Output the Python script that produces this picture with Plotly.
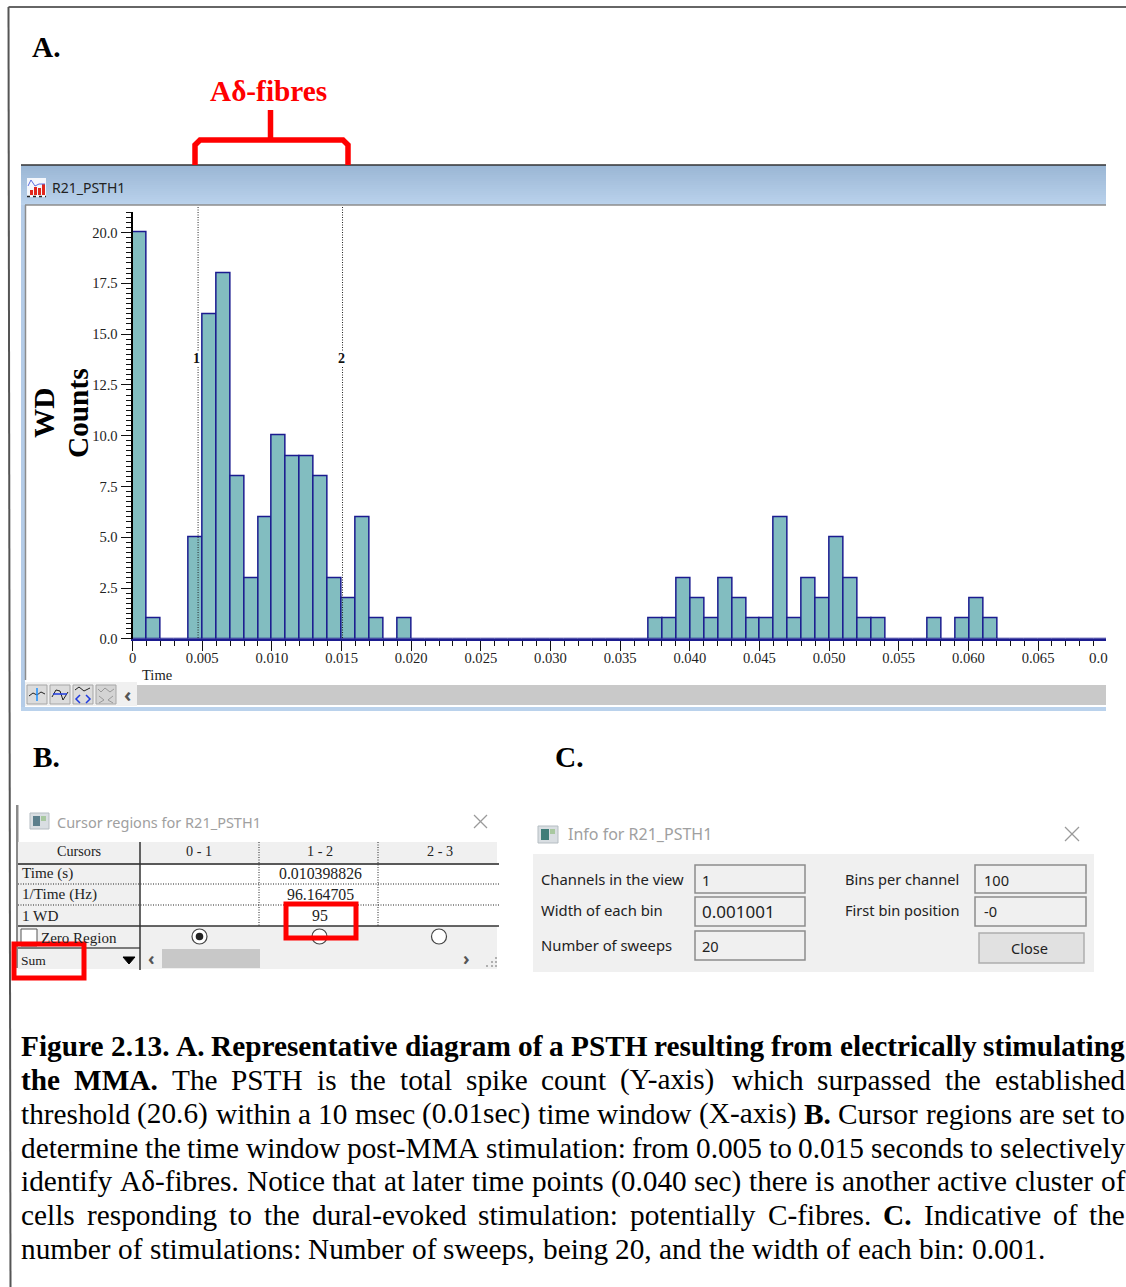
import numpy as np
import plotly.graph_objects as go

W, H = 1126, 1287

# ---------- data ----------
bin_width = 0.001001
counts = [20, 1, 0, 0, 5, 16, 18, 8, 3, 6, 10, 9, 9, 8, 3, 2, 6, 1, 0, 1,
          0, 0, 0, 0, 0, 0, 0, 0, 0, 0, 0, 0, 0, 0, 0, 0, 0,
          1, 1, 3, 2, 1, 3, 2, 1, 1, 6, 1, 3, 2, 5, 3, 1, 1, 0, 0, 0,
          1, 0, 1, 2, 1, 0, 0, 0, 0, 0, 0, 0, 0]
x_tick_vals = [0, 0.005, 0.010, 0.015, 0.020, 0.025, 0.030, 0.035, 0.040,
               0.045, 0.050, 0.055, 0.060, 0.065]
x_tick_text = ["0", "0.005", "0.010", "0.015", "0.020", "0.025", "0.030", "0.035",
               "0.040", "0.045", "0.050", "0.055", "0.060", "0.065"]
y_tick_vals = [0, 2.5, 5, 7.5, 10, 12.5, 15, 17.5, 20]
y_tick_text = ["0.0", "2.5", "5.0", "7.5", "10.0", "12.5", "15.0", "17.5", "20.0"]
cursors = [0.0047, 0.01507]

table_rows = ["Time (s)", "1/Time (Hz)", "1 WD"]
table_vals = ["0.010398826", "96.164705", "95"]
table_cols = ["Cursors", "0 - 1", "1 - 2", "2 - 3"]

caption = [
    [("Figure 2.13. A. Representative diagram of a PSTH resulting from electrically stimulating", True)],
    [("the MMA.", True), ("The PSTH is the total spike count (Y-axis) which surpassed the established", False)],
    [("threshold (20.6) within a 10 msec (0.01sec) time window (X-axis)", False), ("B.", True),
     ("Cursor regions are set to", False)],
    [("determine the time window post-MMA stimulation: from 0.005 to 0.015 seconds to selectively", False)],
    [("identify Aδ-fibres. Notice that at later time points (0.040 sec) there is another active cluster of", False)],
    [("cells responding to the dural-evoked stimulation: potentially C-fibres.", False), ("C.", True),
     ("Indicative of the", False)],
    [("number of stimulations: Number of sweeps, being 20, and the width of each bin: 0.001.", False)],
]

# ---------- helpers ----------
SERIF = "Liberation Serif"
SANS = "Noto Sans"
FINE_DOT = "1px,1.5px"
shapes, notes = [], []


def X(x):
    return x / W


def Y(y):
    return 1 - y / H


def rect(x0, y0, x1, y1, fill=None, line=None, lw=1, layer="below"):
    shapes.append(dict(type="rect", xref="paper", yref="paper", x0=X(x0), x1=X(x1), y0=Y(y0), y1=Y(y1),
                       fillcolor=fill or "rgba(0,0,0,0)", layer=layer,
                       line=dict(color=line or "rgba(0,0,0,0)", width=lw if line else 0)))


def seg(x0, y0, x1, y1, color="#000", lw=1, dash="solid", layer="below"):
    shapes.append(dict(type="line", xref="paper", yref="paper", x0=X(x0), x1=X(x1), y0=Y(y0), y1=Y(y1),
                       layer=layer, line=dict(color=color, width=lw, dash=dash)))


def path(points, color="#000", lw=1, fill=None, layer="above"):
    d = "M " + " L ".join(f"{X(a):.5f},{Y(b):.5f}" for a, b in points)
    if fill:
        d += " Z"
    shapes.append(dict(type="path", xref="paper", yref="paper", path=d, layer=layer,
                       fillcolor=fill or "rgba(0,0,0,0)", line=dict(color=color, width=lw)))


def circle(cx, cy, r, fill=None, line=None, lw=1, layer="above"):
    shapes.append(dict(type="circle", xref="paper", yref="paper", x0=X(cx - r), x1=X(cx + r),
                       y0=Y(cy - r), y1=Y(cy + r), layer=layer, fillcolor=fill or "rgba(0,0,0,0)",
                       line=dict(color=line or "rgba(0,0,0,0)", width=lw if line else 0)))


def text(x, y, s, size=14, font=SERIF, color="#111", anchor="left", bold=False, angle=0, bg=None):
    notes.append(dict(xref="paper", yref="paper", x=X(x), y=Y(y), text=f"<b>{s}</b>" if bold else s,
                      showarrow=False, xanchor=anchor, yanchor="middle", textangle=angle,
                      borderpad=0, borderwidth=0, bgcolor=bg or "rgba(0,0,0,0)",
                      font=dict(family=font, size=size, color=color)))


# Times metrics (per 1000 em), used to justify the caption lines
REG = dict(zip("abcdefghijklmnopqrstuvwxyz",
               [444, 500, 444, 500, 444, 333, 500, 500, 278, 278, 500, 278, 778, 500, 500, 500, 500, 333, 389, 278,
                500, 500, 722, 500, 500, 444]))
REG.update(dict(zip("ABCDEFGHIJKLMNOPQRSTUVWXYZ",
                    [722, 667, 667, 722, 611, 556, 722, 722, 333, 389, 722, 611, 889, 722, 722, 556, 722, 667, 556,
                     611, 722, 722, 944, 722, 722, 611])))
BLD = dict(zip("abcdefghijklmnopqrstuvwxyz",
               [500, 556, 444, 556, 444, 333, 500, 556, 278, 333, 556, 278, 833, 556, 500, 556, 556, 444, 389, 333,
                556, 500, 722, 500, 500, 444]))
BLD.update(dict(zip("ABCDEFGHIJKLMNOPQRSTUVWXYZ",
                    [722, 667, 722, 722, 667, 611, 778, 778, 389, 500, 778, 667, 944, 722, 778, 611, 778, 722, 556,
                     667, 722, 722, 1000, 722, 722, 667])))
for t in (REG, BLD):
    t.update({c: 500 for c in "0123456789"})
    t.update({".": 250, ",": 250, ":": 278 if t is REG else 333, "(": 333, ")": 333, "-": 333, "δ": 494})


def word_width(w, bold, size):
    table = BLD if bold else REG
    return sum(table.get(c, 500) for c in w) * size / 1000


# ---------- page frame ----------
seg(8.5, 7, W, 7, "#333", 1.5)
seg(8.5, 7, 10.5, H, "#555", 2)

# ---------- panel A window ----------
rect(21, 165, 1106, 711, "#FFFFFF")
top, bot = np.array([0x9B, 0xB7, 0xD5]), np.array([0xBA, 0xD2, 0xEC])
for i in range(20):
    c = top + (bot - top) * i / 19
    rect(21, 165 + i * 2, 1106, 167 + i * 2, "rgb(%d,%d,%d)" % tuple(c))
seg(21, 165, 1106, 165, "#333", 1.5)
seg(25, 205, 1106, 205, "#8C8C8C", 1.5)
rect(21, 205, 25, 711, "#B4CCE8")
seg(25.5, 205, 25.5, 680, "#8C8C8C", 1.5)
rect(25, 682, 137, 706, "#F0F0F0")
rect(137, 685, 1106, 705, "#C9C9C9")
rect(21, 707, 1106, 711, "#BAD2EC")

# title icon
rect(27, 178, 46, 197, "#F4F7FC")
for bx, bh in zip([30, 34, 38, 42], [5, 8, 7, 11]):
    rect(bx, 195 - bh, bx + 3, 195, "#E0261C")
seg(27, 196.5, 46, 196.5, "#222", 1.5, "dot")
path([(28, 186), (31, 180), (35, 186), (39, 184), (45, 184)], "#5B6EE0", 1)
text(52, 188, "R21_PSTH1", 14, SANS, "#222")

# toolbar
for ix in [27, 50, 73, 96]:
    rect(ix, 685, ix + 20, 704, "#DCDCDC" if ix < 96 else "#D4D4D4", "#A6A6A6", 1)
path([(29, 696), (33, 693), (37, 695), (41, 692), (45, 694)], "#222", 1)
seg(37, 688, 37, 701, "#1E90FF", 1.5, layer="above")
path([(52, 697), (56, 690), (60, 691), (63, 700), (68, 692)], "#222", 1)
seg(53, 694, 67, 694, "#1F3BE0", 1.5, layer="above")
path([(75, 690), (79, 687), (84, 691), (90, 688)], "#222", 1)
path([(80, 695), (76, 699), (80, 703)], "#1F3BE0", 1.5)
path([(86, 695), (90, 699), (86, 703)], "#1F3BE0", 1.5)
path([(98, 689), (101, 692), (105, 688), (110, 692), (114, 689)], "#999", 1)
path([(99, 696), (104, 700), (99, 703)], "#999", 1)
path([(113, 696), (108, 700), (113, 703)], "#999", 1)
text(127, 694, "‹", 20, SANS, "#555", "center", True)

# bracket
path([(195, 165), (195, 145), (200, 140), (343, 140), (348, 145), (348, 165)], "#FF0000", 5.5)
seg(270.5, 110, 270.5, 140, "#FF0000", 5.5, layer="above")

text(32, 47, "A.", 29.3, SERIF, "#000", bold=True)
text(268, 91, "Aδ-fibres", 29.3, SERIF, "#FF0000", "center", True)
text(33, 757, "B.", 29.3, SERIF, "#000", bold=True)
text(555, 757, "C.", 29.3, SERIF, "#000", bold=True)
text(44, 413, "WD", 29.3, SERIF, "#000", "center", True, -90)
text(78, 413, "Counts", 29.3, SERIF, "#000", "center", True, -90)
text(157, 675, "Time", 14.5, SERIF, "#222", "center")
text(1089, 658, "0.0", 15, SERIF, "#222")

# ---------- panel B ----------
rect(16, 805, 18.5, 968, "#8A8A8A")
rect(30, 813, 49, 829, "#D9DEE2", "#B5BDC2", 1)
rect(33, 816, 40, 826, "#5C7F8C")
rect(41, 816, 46, 821, "#A8C8A0")
text(57, 822, "Cursor regions for R21_PSTH1", 14.5, SANS, "#A0A0A0")
seg(474, 815, 487, 828, "#9A9A9A", 1.2)
seg(487, 815, 474, 828, "#9A9A9A", 1.2)
rect(18, 842, 497, 863, "#F0F0F0")
rect(18, 863, 140, 926, "#F0F0F0")
rect(18, 926, 497, 969, "#F0F0F0")
seg(18, 864, 499, 864, "#222", 1.5)
seg(18, 884, 499, 884, "#222", 1, FINE_DOT)
seg(18, 905, 499, 905, "#222", 1, FINE_DOT)
seg(18, 926, 499, 926, "#333", 1.5)
seg(18, 948, 140, 948, "#555", 1.5)
seg(140, 842, 140, 970, "#333", 1.5)
seg(259, 842, 259, 926, "#222", 1, FINE_DOT)
seg(378, 842, 378, 926, "#222", 1, FINE_DOT)
for cx, lab in zip([79, 199, 320, 440], table_cols):
    text(cx, 851, lab, 14.2, SERIF, "#222", "center")
for yy, lab, val in zip([873, 894, 915], table_rows, table_vals):
    text(22, yy, lab, 15.2, SERIF, "#222")
    text(320, yy, val, 15.8, SERIF, "#222", "center")
rect(21, 929, 37, 946, "#FFFFFF", "#555", 1)
text(41, 938, "Zero Region", 15, SERIF, "#222")
circle(199.5, 936.5, 7.5, "#FFFFFF", "#444", 1.2)
circle(199.5, 936.5, 3.8, "#222")
circle(319.5, 936.5, 7.5, "#FFFFFF", "#444", 1.2)
circle(439, 936.5, 7.5, "#FFFFFF", "#444", 1.2)
text(21, 960, "Sum", 13.5, SERIF, "#222")
path([(123, 957), (135, 957), (129, 964)], "#000", 1, "#000")
text(151, 958, "‹", 18, SANS, "#555", "center", True)
rect(162, 949, 260, 968, "#C8C8C8")
text(466, 958, "›", 18, SANS, "#555", "center", True)
for dx, dy in [(491, 965), (486, 965), (495, 965), (491, 961), (495, 961), (495, 957)]:
    rect(dx, dy, dx + 2, dy + 2, "#B0B0B0")
rect(286, 904, 356, 938, None, "#FF0000", 5, "above")
rect(14, 944, 84, 978, None, "#FF0000", 5, "above")

# ---------- panel C ----------
rect(538, 826, 558, 843, "#D9DEE2", "#B5BDC2", 1)
rect(541, 829, 549, 840, "#3F7C78")
rect(550, 829, 555, 834, "#A8C8A0")
text(568, 834, "Info for R21_PSTH1", 16, SANS, "#A0A0A0")
seg(1065, 827, 1079, 841, "#9A9A9A", 1.2)
seg(1079, 827, 1065, 841, "#9A9A9A", 1.2)
rect(533, 854, 1094, 972, "#F0F0F0")
info_left = [("Channels in the view", "1", 865, 893, 879), ("Width of each bin", "0.001001", 897, 926, 910),
             ("Number of sweeps", "20", 931, 960, 945)]
info_right = [("Bins per channel", "100", 865, 893, 879), ("First bin position", "-0", 897, 926, 910)]
for lab, val, y0, y1, yy in info_left:
    text(541, yy, lab, 14.8, SANS, "#222")
    rect(695, y0, 805, y1, "#F0F0F0", "#8C8C8C", 1.5)
    text(702, yy + 1, val, 17 if val.startswith("0.") else 14.6, SANS, "#222")
for lab, val, y0, y1, yy in info_right:
    text(845, yy, lab, 14.6, SANS, "#222")
    rect(975, y0, 1086, y1, "#F0F0F0", "#8C8C8C", 1.5)
    text(984, yy + 1, val, 14.6, SANS, "#222")
rect(979, 933, 1084, 963, "#E1E1E1", "#ADADAD", 1.5)
text(1029, 948, "Close", 14.6, SANS, "#222", "center")

# ---------- caption, word by word to keep it justified ----------
CAP = 29.3
LEFT, RIGHT = 21, 1125
for li, runs in enumerate(caption):
    words = [(w, b) for s, b in runs for w in s.split(" ")]
    widths = [word_width(w, b, CAP) for w, b in words]
    natural_gap = 0.25 * CAP
    gap = natural_gap if li == len(caption) - 1 else (RIGHT - LEFT - sum(widths)) / (len(words) - 1)
    cur = LEFT
    for (w, b), wd in zip(words, widths):
        text(cur, 1046 + 33.85 * li, w, CAP, SERIF, "#000", bold=b)
        cur += wd + gap

# ---------- chart ----------
centers = [(i + 0.5) * bin_width for i in range(len(counts))]
fig = go.Figure(go.Bar(x=centers, y=counts, width=bin_width, cliponaxis=False,
                       marker=dict(color="#82BDC0", line=dict(color="#1B1B8F", width=1.5)), hoverinfo="skip"))

for cx in cursors:
    shapes.append(dict(type="line", xref="x", yref="paper", x0=cx, x1=cx, y0=Y(638), y1=Y(207), layer="above",
                       line=dict(color="#222", width=1, dash=FINE_DOT)))
text(196, 359, "1", 14, SERIF, "#111", "center", True, bg="#FFFFFF")
text(341, 358, "2", 14, SERIF, "#111", "center", True, bg="#FFFFFF")

tick_font = dict(family=SERIF, size=14.6, color="#222")
fig.update_layout(
    width=W, height=H, margin=dict(l=0, r=0, t=0, b=0, pad=0, autoexpand=False), showlegend=False,
    paper_bgcolor="#FFFFFF", plot_bgcolor="rgba(0,0,0,0)", bargap=0,
    shapes=shapes, annotations=notes,
    xaxis=dict(domain=[X(132.6), X(1106)], range=[0, 973.4 / 13.93 / 1000], tickmode="array",
               tickvals=x_tick_vals, ticktext=x_tick_text, ticks="outside", ticklen=10, tickwidth=1.3,
               tickcolor="#111", showgrid=False, zeroline=False, showline=True, linecolor="#1B1B8F", linewidth=2,
               tickfont=tick_font, anchor="y", ticklabelstandoff=-5,
               minor=dict(tickmode="linear", tick0=0, dtick=0.001, ticks="outside", ticklen=5, tickwidth=1,
                          tickcolor="#111", showgrid=False)),
    yaxis=dict(domain=[Y(638.8), Y(212.2)], range=[0, 21], tickmode="array", tickvals=y_tick_vals,
               ticktext=y_tick_text, ticks="outside", ticklen=10, tickwidth=1.3, tickcolor="#111",
               showgrid=False, zeroline=False, showline=True, linecolor="#000", linewidth=2,
               tickfont=tick_font, anchor="x",
               minor=dict(tickmode="linear", tick0=0, dtick=0.25, ticks="outside", ticklen=5, tickwidth=1,
                          tickcolor="#111", showgrid=False)),
)

fig.write_html("out.html", config=dict(displayModeBar=False),
               post_script="document.body.style.margin='0';document.body.style.overflow='hidden';")
